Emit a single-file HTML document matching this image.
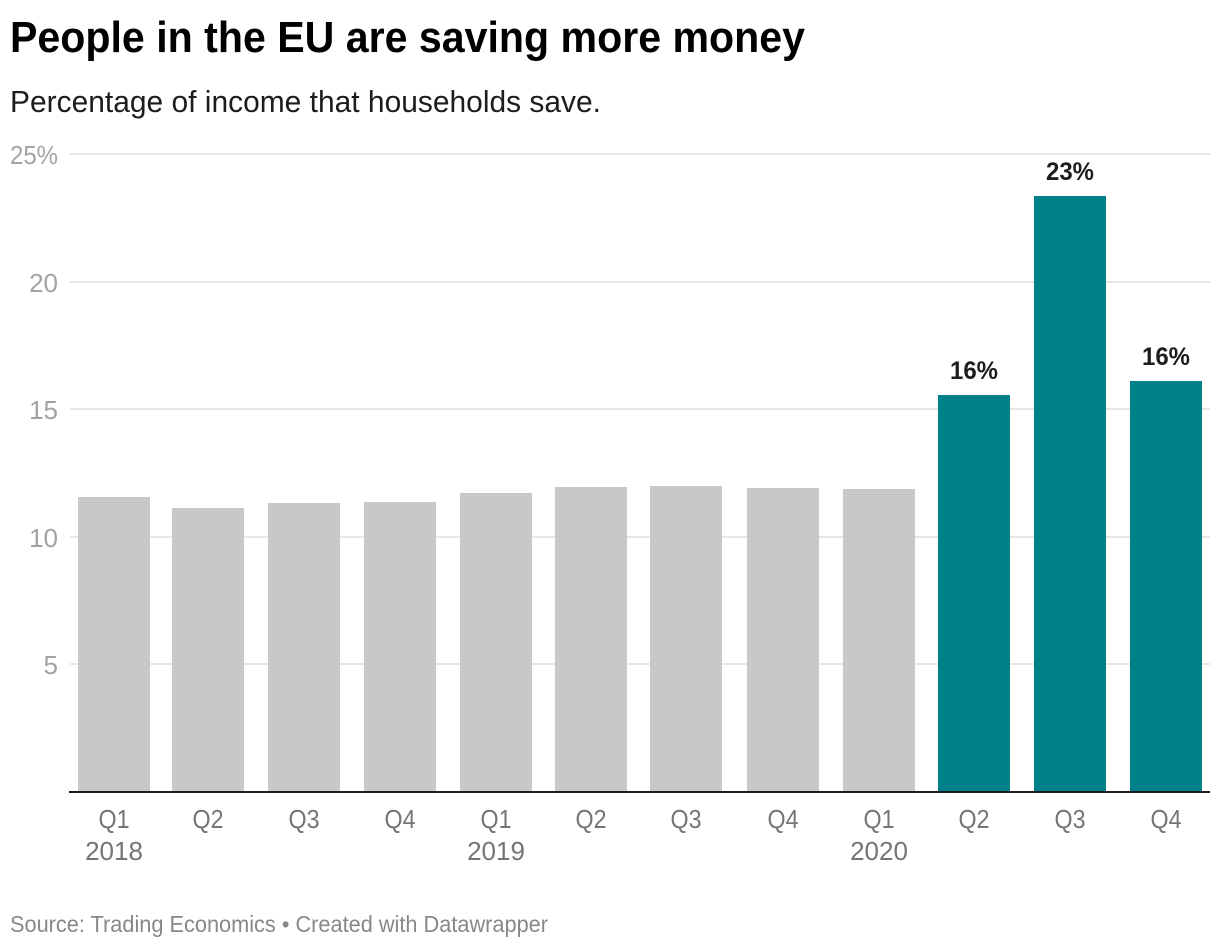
<!DOCTYPE html>
<html lang="en">
<head>
<meta charset="utf-8">
<title>People in the EU are saving more money</title>
<style>
html,body{margin:0;padding:0;background:#fff;width:1220px;height:948px;overflow:hidden}
svg{display:block;font-family:"Liberation Sans",Arial,sans-serif}
</style>
</head>
<body>
<svg id="chart" width="1220" height="948" viewBox="0 0 1220 948" xmlns="http://www.w3.org/2000/svg">
  <text x="10" y="52" font-size="44" font-weight="700" fill="#000" textLength="795" lengthAdjust="spacingAndGlyphs">People in the EU are saving more money</text>
  <text x="10" y="112" font-size="31" fill="#1d1d1d" textLength="591" lengthAdjust="spacingAndGlyphs">Percentage of income that households save.</text>
  <g id="grid"></g>
  <g id="bars"></g>
  <g id="values"></g>
  <rect x="69" y="791" width="1141" height="2" fill="#1d1d1d"></rect>
  <g id="xlabels"></g>
  <text x="10" y="932" font-size="23.5" fill="#888888" textLength="538" lengthAdjust="spacingAndGlyphs">Source: Trading Economics • Created with Datawrapper</text>
</svg>
<script>
var quarterStarts = ['2018-01-01','2018-04-01','2018-07-01','2018-10-01','2019-01-01','2019-04-01','2019-07-01','2019-10-01','2020-01-01','2020-04-01','2020-07-01','2020-10-01'];
var quarterLabels = ['Q1','Q2','Q3','Q4','Q1','Q2','Q3','Q4','Q1','Q2','Q3','Q4'];
var yearLabels = ['2018','','','','2019','','','','2020','','',''];
var savingsRate = [11.56,11.13,11.32,11.36,11.71,11.95,12.0,11.91,11.87,15.56,23.37,16.11];
var highlighted = [false,false,false,false,false,false,false,false,false,true,true,true];
var yTicks = [25,20,15,10,5];
var yTickLabels = ['25%','20','15','10','5'];

var NS = 'http://www.w3.org/2000/svg';
var Y_ZERO = 791.5, Y_TOP = 154, Y_MAX = 25;
var X_LEFT = 78, X_LAST = 1130, BAR_W = 72;
var T0 = Date.parse(quarterStarts[0]);
var T1 = Date.parse(quarterStarts[quarterStarts.length - 1]);

function yScale(v){ return Y_ZERO - (v / Y_MAX) * (Y_ZERO - Y_TOP); }
function xScale(d){ return X_LEFT + (Date.parse(d) - T0) / (T1 - T0) * (X_LAST - X_LEFT); }
function make(tag, attrs, parent, txt){
  var el = document.createElementNS(NS, tag);
  for (var k in attrs) el.setAttribute(k, attrs[k]);
  if (txt !== undefined) el.textContent = txt;
  parent.appendChild(el);
  return el;
}

var grid = document.getElementById('grid');
var barsG = document.getElementById('bars');
var valuesG = document.getElementById('values');
var xG = document.getElementById('xlabels');

yTicks.forEach(function(t, i){
  var y = Math.round(yScale(t));
  var line = make('rect', {x:70, y:y-1, width:1140, height:2, fill:'#e6e6e6'}, grid);
  
  
  var attrs = {x:58, y:y+10, 'text-anchor':'end', 'font-size':26, fill:'#a3a3a3'};
  if (yTickLabels[i].indexOf('%') >= 0) { attrs.textLength = 48; attrs.lengthAdjust = 'spacingAndGlyphs'; }
  var lab = make('text', attrs, grid, yTickLabels[i]);
  
  
});

savingsRate.forEach(function(v, i){
  var x = Math.round(xScale(quarterStarts[i]));
  var y = Math.round(yScale(v));
  var bar = make('rect', {x:x, y:y, width:BAR_W, height:791-y, fill:highlighted[i] ? '#00818a' : '#c8c8c8'}, barsG);
  
  

  var cx = x + BAR_W / 2;
  if (highlighted[i]) {
    var val = make('text', {x:cx, y:y-16, 'text-anchor':'middle', 'font-size':25, 'font-weight':700, fill:'#1d1d1d', textLength:48, lengthAdjust:'spacingAndGlyphs'}, valuesG, Math.round(v) + '%');
    
    
  }
  var q = make('text', {x:cx, y:828, 'text-anchor':'middle', 'font-size':26, fill:'#757575', textLength:31, lengthAdjust:'spacingAndGlyphs'}, xG, quarterLabels[i]);
  
  
  if (yearLabels[i]) {
    var yr = make('text', {x:cx, y:860, 'text-anchor':'middle', 'font-size':26, fill:'#757575'}, xG, yearLabels[i]);
    
    
  }
});
</script>
</body>
</html>
